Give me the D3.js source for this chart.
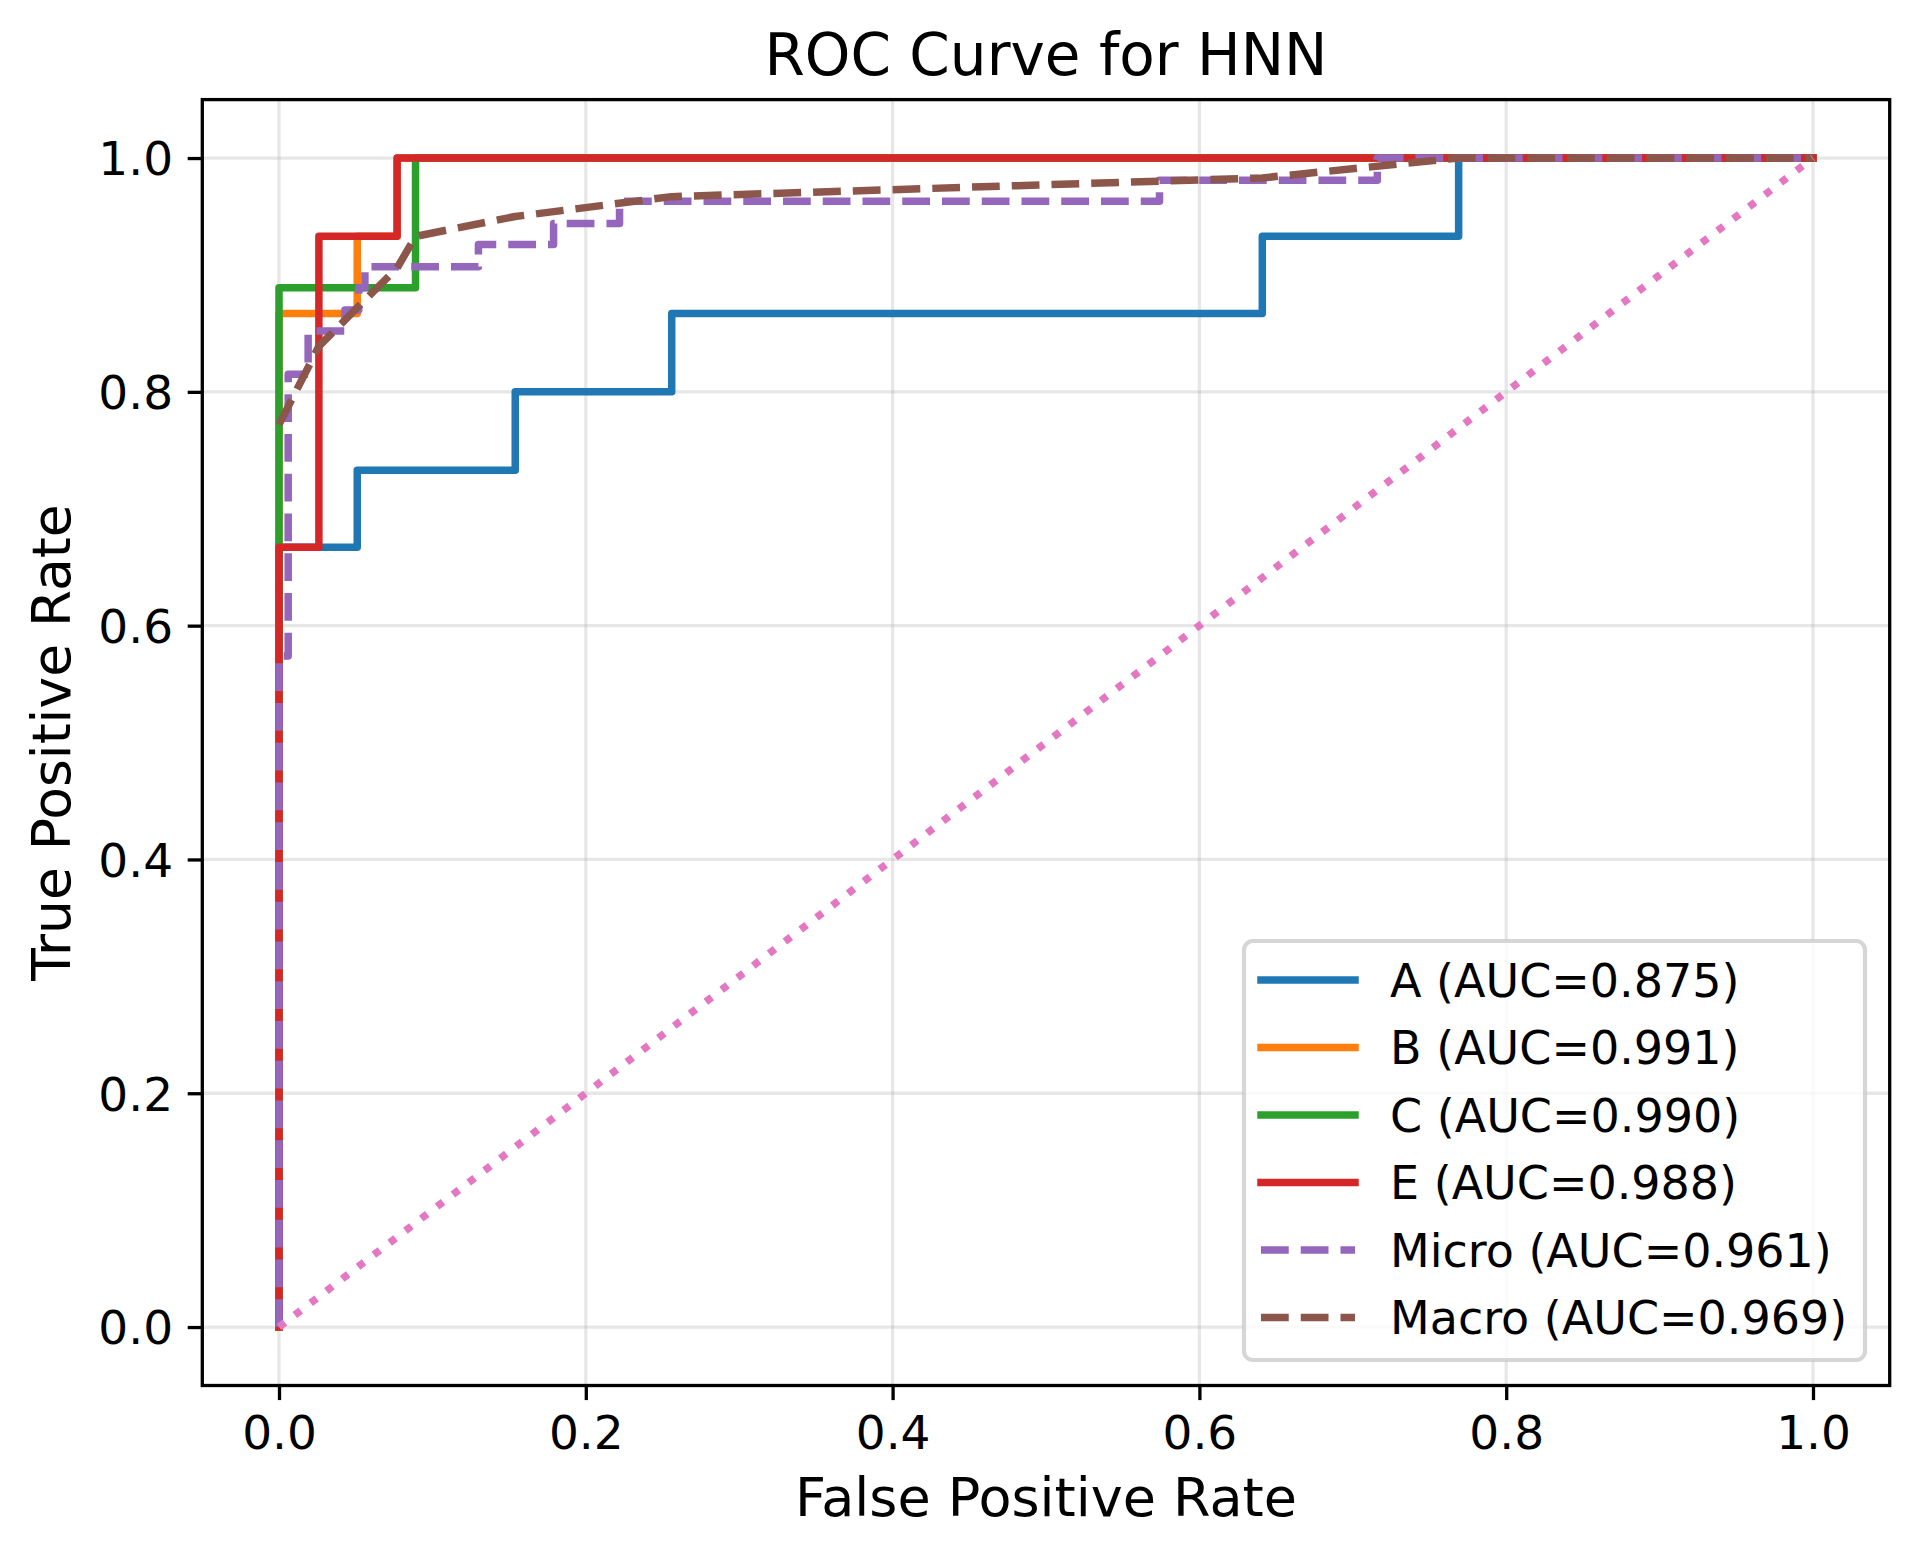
<!DOCTYPE html>
<html>
<head>
<meta charset="utf-8">
<script src="https://cdn.jsdelivr.net/npm/d3@7"></script>
<style>
  html, body { margin: 0; padding: 0; background: #ffffff; }
  text { font-family: "DejaVu Sans", sans-serif; fill: #000; }
</style>
</head>
<body>
<svg id="chart" width="1918" height="1558"></svg>
<script>
// ---- data ----
const seriesNames = ["A", "B", "C", "E", "Micro", "Macro"];
const aucValues = [0.875, 0.991, 0.990, 0.988, 0.961, 0.969];

const fprA = [0, 0, 0.051, 0.051, 0.154, 0.154, 0.256, 0.256, 0.641, 0.641, 0.769, 0.769, 1];
const tprA = [0, 0.667, 0.667, 0.733, 0.733, 0.800, 0.800, 0.867, 0.867, 0.933, 0.933, 1, 1];

const fprB = [0, 0, 0.051, 0.051, 0.077, 0.077, 1];
const tprB = [0, 0.867, 0.867, 0.933, 0.933, 1, 1];

const fprC = [0, 0, 0.089, 0.089, 1];
const tprC = [0, 0.889, 0.889, 1, 1];

const fprE = [0, 0, 0.026, 0.026, 0.077, 0.077, 1];
const tprE = [0, 0.667, 0.667, 0.933, 0.933, 1, 1];

const fprMicro = [0, 0, 0.006, 0.006, 0.019, 0.019, 0.043, 0.043, 0.052, 0.052, 0.056, 0.056, 0.130, 0.130, 0.179, 0.179, 0.222, 0.222, 0.574, 0.574, 0.716, 0.716, 1];
const tprMicro = [0, 0.574, 0.574, 0.815, 0.815, 0.852, 0.852, 0.870, 0.870, 0.889, 0.889, 0.907, 0.907, 0.926, 0.926, 0.944, 0.944, 0.963, 0.963, 0.981, 0.981, 1, 1];

const fprMacro = [0, 0.026, 0.051, 0.077, 0.089, 0.154, 0.256, 0.641, 0.769, 1];
const tprMacro = [0.772, 0.839, 0.872, 0.906, 0.933, 0.950, 0.967, 0.983, 1, 1];

const fprChance = [0, 1];
const tprChance = [0, 1];

const tickValues = [0, 0.2, 0.4, 0.6, 0.8, 1.0];
const tickLabels = ["0.0", "0.2", "0.4", "0.6", "0.8", "1.0"];

const titleText = "ROC Curve for HNN";
const xLabelText = "False Positive Rate";
const yLabelText = "True Positive Rate";

// ---- layout ----
const svg = d3.select("#chart");
svg.append("rect").attr("width", 1918).attr("height", 1558).attr("fill", "#fff");

const L = 202.3, R = 1889.7, T = 99.6, B = 1385.5;
const x = d3.scaleLinear().domain([-0.05, 1.05]).range([L, R]);
const y = d3.scaleLinear().domain([-0.05, 1.05]).range([B, T]);

const colors = ["#1f77b4", "#ff7f0e", "#2ca02c", "#d62728", "#9467bd", "#8c564b", "#e377c2"];
const lw = 7.5;
const tickFs = 47, legendFs = 46, xLabelFs = 54, yLabelFs = 53.5, titleFs = 58;

svg.append("defs").append("clipPath").attr("id", "clip")
  .append("rect").attr("x", L).attr("y", T).attr("width", R - L).attr("height", B - T);

// grid
const grid = svg.append("g");
tickValues.forEach(v => {
  grid.append("line").attr("x1", x(v)).attr("x2", x(v)).attr("y1", T).attr("y2", B)
    .attr("stroke", "#b0b0b0").attr("stroke-opacity", 0.3).attr("stroke-width", 3.3);
  grid.append("line").attr("y1", y(v)).attr("y2", y(v)).attr("x1", L).attr("x2", R)
    .attr("stroke", "#b0b0b0").attr("stroke-opacity", 0.3).attr("stroke-width", 3.3);
});

// axes via d3
const xAxis = d3.axisBottom(x).tickValues(tickValues).tickFormat((d, i) => tickLabels[i]).tickSize(14.6).tickPadding(14.6);
const yAxis = d3.axisLeft(y).tickValues(tickValues).tickFormat((d, i) => tickLabels[i]).tickSize(14.6).tickPadding(14.6);

const gx = svg.append("g").attr("transform", `translate(0,${B})`).call(xAxis);
const gy = svg.append("g").attr("transform", `translate(${L},0)`).call(yAxis);
[gx, gy].forEach(g => {
  g.select(".domain").remove();
  g.selectAll(".tick line").attr("stroke", "#000").attr("stroke-width", 3.3);
  g.selectAll(".tick text").attr("font-size", tickFs).attr("font-family", "DejaVu Sans").attr("fill", "#000");
});
gx.selectAll(".tick text").attr("dy", "0.72em");
gy.selectAll(".tick text").attr("dy", "0.36em");

// lines
const plot = svg.append("g").attr("clip-path", "url(#clip)");
const lineGen = d3.line().x(d => x(d[0])).y(d => y(d[1]));
const series = [
  [fprA, tprA], [fprB, tprB], [fprC, tprC], [fprE, tprE], [fprMicro, tprMicro], [fprMacro, tprMacro]
];
series.forEach((s, i) => {
  const pts = s[0].map((f, k) => [f, s[1][k]]);
  const dashed = i >= 4;
  plot.append("path").attr("d", lineGen(pts)).attr("fill", "none")
    .attr("stroke", colors[i]).attr("stroke-width", lw)
    .attr("stroke-linejoin", "round")
    .attr("stroke-linecap", dashed ? "butt" : "square")
    .attr("stroke-dasharray", dashed ? `${3.7 * lw},${1.6 * lw}` : null);
});
plot.append("path").attr("d", lineGen(fprChance.map((f, k) => [f, tprChance[k]])))
  .attr("fill", "none").attr("stroke", colors[6]).attr("stroke-width", lw)
  .attr("stroke-linecap", "butt").attr("stroke-dasharray", `${1 * lw},${1.65 * lw}`);

// spines
svg.append("rect").attr("x", L).attr("y", T).attr("width", R - L).attr("height", B - T)
  .attr("fill", "none").attr("stroke", "#000").attr("stroke-width", 3.3);

// title & labels
svg.append("text").attr("x", (L + R) / 2).attr("y", 75).attr("text-anchor", "middle")
  .attr("font-size", titleFs).text(titleText);
svg.append("text").attr("x", (L + R) / 2).attr("y", 1516).attr("text-anchor", "middle")
  .attr("font-size", xLabelFs).text(xLabelText);
svg.append("text").attr("transform", `translate(70,${(T + B) / 2}) rotate(-90)`)
  .attr("text-anchor", "middle").attr("font-size", yLabelFs).text(yLabelText);

// legend
const lg = svg.append("g");
lg.append("rect").attr("x", 1244).attr("y", 941).attr("width", 621).attr("height", 419)
  .attr("rx", 9).attr("fill", "#fff").attr("fill-opacity", 0.8)
  .attr("stroke", "#cccccc").attr("stroke-opacity", 0.8).attr("stroke-width", 4.2);
seriesNames.forEach((nm, i) => {
  const cy = 980 + i * 67.5;
  const dashed = i >= 4;
  lg.append("line").attr("x1", 1261).attr("x2", 1355).attr("y1", cy).attr("y2", cy)
    .attr("stroke", colors[i]).attr("stroke-width", lw)
    .attr("stroke-linecap", dashed ? "butt" : "square")
    .attr("stroke-dasharray", dashed ? `${3.7 * lw},${1.6 * lw}` : null);
  lg.append("text").attr("x", 1390).attr("y", cy).attr("dy", "0.36em")
    .attr("font-size", legendFs).text(`${nm} (AUC=${aucValues[i].toFixed(3)})`);
});
</script>
</body>
</html>
